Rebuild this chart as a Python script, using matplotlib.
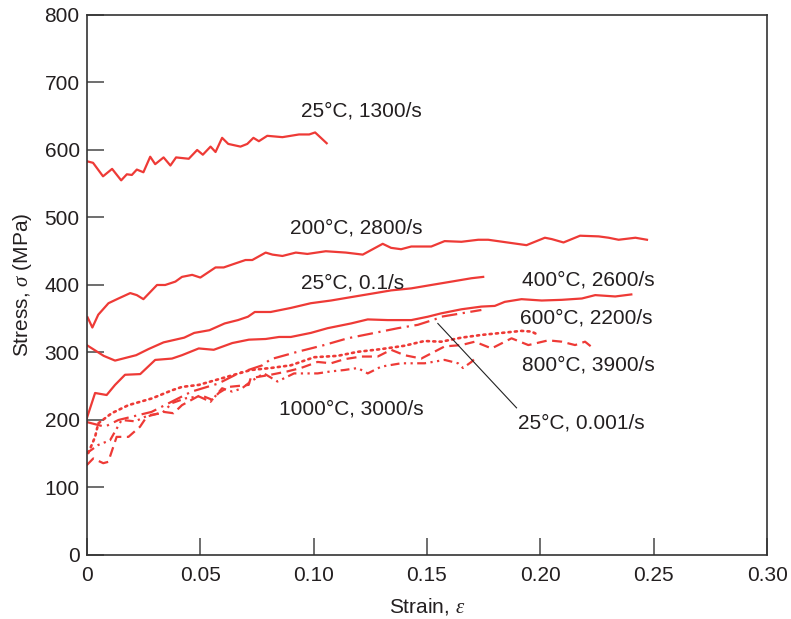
import numpy as np
import matplotlib.pyplot as plt

plt.rcParams['font.family'] = 'Liberation Sans'
plt.rcParams['mathtext.fontset'] = 'custom'
plt.rcParams['mathtext.it'] = 'Liberation Serif:italic'
plt.rcParams['mathtext.rm'] = 'Liberation Sans'

red = '#ee3a36'
txt = '#231f20'

# 25C, 1300/s
s1_x = [0.0004, 0.0028, 0.0072, 0.0112, 0.0152, 0.0177, 0.0199, 0.0221, 0.0250, 0.0280, 0.0302, 0.0339, 0.0369,
        0.0394, 0.0450, 0.0487, 0.0512, 0.0546, 0.0568, 0.0597, 0.0624, 0.0678, 0.0708, 0.0735, 0.0759, 0.0796,
        0.0863, 0.0936, 0.0981, 0.1007, 0.1058]
s1_y = [583, 581, 561, 572, 555, 564, 563, 571, 567, 590, 579, 589, 577, 589, 587, 600, 593, 605, 597, 618, 609,
        605, 609, 618, 613, 621, 619, 623, 623, 626, 610]

# 200C, 2800/s
s2_x = [0.0004, 0.0025, 0.0051, 0.0096, 0.0140, 0.0192, 0.0221, 0.0250, 0.0310, 0.0346, 0.0391, 0.0420, 0.0465,
        0.0501, 0.0568, 0.0604, 0.0656, 0.0700, 0.0730, 0.0789, 0.0819, 0.0863, 0.0922, 0.0973, 0.1054, 0.1143,
        0.1217, 0.1305, 0.1342, 0.1386, 0.1431, 0.1519, 0.1578, 0.1652, 0.1726, 0.1770, 0.1939, 0.2020, 0.2050,
        0.2102, 0.2175, 0.2257, 0.2301, 0.2345, 0.2419, 0.2470]
s2_y = [352, 337, 356, 373, 380, 388, 385, 379, 400, 400, 405, 412, 415, 411, 426, 426, 432, 437, 437, 448, 445,
        443, 448, 446, 450, 448, 445, 461, 455, 453, 457, 457, 465, 464, 467, 467, 459, 470, 468, 463, 473, 472,
        470, 467, 470, 467]

# 25C, 0.1/s
s3_x = [0.0, 0.0075, 0.0125, 0.0218, 0.0272, 0.0339, 0.0430, 0.0474, 0.0541, 0.0608, 0.0667, 0.0711, 0.0741,
        0.0811, 0.0900, 0.0988, 0.1077, 0.1165, 0.1254, 0.1342, 0.1431, 0.1519, 0.1608, 0.1696, 0.1748]
s3_y = [311, 295, 288, 296, 305, 315, 322, 329, 333, 343, 348, 353, 360, 360, 366, 373, 377, 382, 387, 392, 395,
        400, 405, 410, 412]

# 400C, 2600/s
s4_x = [0.0, 0.0037, 0.0088, 0.0125, 0.0169, 0.0236, 0.0302, 0.0376, 0.0420, 0.0494, 0.0560, 0.0642, 0.0715,
        0.0789, 0.0848, 0.0900, 0.0988, 0.1062, 0.1165, 0.1239, 0.1327, 0.1431, 0.1504, 0.1563, 0.1652, 0.1740,
        0.1799, 0.1843, 0.1917, 0.2006, 0.2094, 0.2183, 0.2242, 0.2330, 0.2401]
s4_y = [202, 240, 237, 252, 267, 268, 289, 291, 296, 306, 304, 314, 319, 320, 323, 323, 329, 336, 343, 349, 348,
        348, 353, 358, 364, 368, 369, 375, 379, 377, 378, 380, 385, 383, 386]

# 25C, 0.001/s
s5_x = [0.0, 0.0080, 0.0140, 0.0286, 0.0374, 0.0462, 0.0580, 0.0668, 0.0774, 0.0811, 0.0929, 0.1047, 0.1150,
        0.1254, 0.1372, 0.1460, 0.1534, 0.1563, 0.1652, 0.1740]
s5_y = [197, 190, 200, 212, 227, 242, 254, 269, 281, 290, 301, 311, 321, 328, 336, 341, 349, 353, 358, 363]

# 600C, 2200/s
s6_x = [0.0007, 0.0037, 0.0051, 0.0110, 0.0184, 0.0288, 0.0376, 0.0420, 0.0494, 0.0723, 0.0811, 0.0900, 0.1003,
        0.1106, 0.1195, 0.1298, 0.1401, 0.1489, 0.1563, 0.1652, 0.1740, 0.1829, 0.1917, 0.1961, 0.1991]
s6_y = [151, 175, 195, 210, 222, 232, 244, 249, 252, 274, 277, 281, 293, 295, 301, 305, 310, 317, 316, 322, 326,
        329, 332, 331, 326]

# 800C, 3900/s
s7_x = [0.0, 0.0029, 0.0073, 0.0095, 0.0132, 0.0184, 0.0235, 0.0265, 0.0339, 0.0383, 0.0420, 0.0501, 0.0553,
        0.0582, 0.0626, 0.0714, 0.0723, 0.0811, 0.0885, 0.0944, 0.1018, 0.1077, 0.1135, 0.1210, 0.1283, 0.1342,
        0.1401, 0.1475, 0.1578, 0.1652, 0.1711, 0.1785, 0.1873, 0.1947, 0.2035, 0.2094, 0.2153, 0.2197, 0.2234]
s7_y = [133, 143, 136, 138, 175, 175, 190, 205, 212, 210, 222, 237, 230, 240, 249, 252, 262, 267, 272, 277, 286,
        284, 290, 294, 294, 304, 296, 291, 309, 311, 316, 306, 321, 311, 318, 316, 311, 316, 306]

# 1000C, 3000/s
s8_x = [0.0, 0.0022, 0.0051, 0.0103, 0.0154, 0.0214, 0.0272, 0.0332, 0.0376, 0.0435, 0.0494, 0.0546, 0.0597,
        0.0642, 0.0685, 0.0723, 0.0781, 0.0841, 0.0914, 0.1018, 0.1077, 0.1135, 0.1195, 0.1239, 0.1298, 0.1386,
        0.1490, 0.1578, 0.1637, 0.1659, 0.1696, 0.1711]
s8_y = [151, 156, 163, 170, 200, 198, 207, 210, 225, 232, 235, 227, 247, 242, 247, 257, 269, 257, 269, 269, 272,
        274, 277, 269, 279, 284, 284, 289, 284, 277, 286, 291]

fig = plt.figure(figsize=(7.91, 6.19), dpi=100)
ax = fig.add_axes([0.1096, 0.1034, 0.8603, 0.8724])

lw = 1.6
ax.plot(s1_x, s1_y, color=red, lw=lw)
ax.plot(s2_x, s2_y, color=red, lw=lw)
ax.plot(s3_x, s3_y, color=red, lw=lw)
ax.plot(s4_x, s4_y, color=red, lw=lw)
ax.plot(s5_x, s5_y, color=red, lw=lw, linestyle=(0, (7, 2.5, 1, 2.5)))
ax.plot(s6_x, s6_y, color=red, lw=lw + 0.3, linestyle=(0, (0.8, 1.6)), dash_capstyle='round')
ax.plot(s7_x, s7_y, color=red, lw=lw, linestyle=(0, (4.5, 2.5)))
ax.plot(s8_x, s8_y, color=red, lw=lw, linestyle=(0, (4, 2, 1, 2, 1, 2)))

fs = 15
ax.text(0.0944, 658, '25°C, 1300/s', fontsize=fs, color=txt, va='center')
ax.text(0.0895, 484, '200°C, 2800/s', fontsize=fs, color=txt, va='center')
ax.text(0.0944, 403, '25°C, 0.1/s', fontsize=fs, color=txt, va='center')
ax.text(0.1917, 407, '400°C, 2600/s', fontsize=fs, color=txt, va='center')
ax.text(0.1910, 351, '600°C, 2200/s', fontsize=fs, color=txt, va='center')
ax.text(0.1920, 281, '800°C, 3900/s', fontsize=fs, color=txt, va='center')
ax.text(0.0846, 216, '1000°C, 3000/s', fontsize=fs, color=txt, va='center')
ax.text(0.1900, 196, '25°C, 0.001/s', fontsize=fs, color=txt, va='center')
ax.plot([0.1548, 0.1895], [343, 218], color='#222222', lw=0.8)

ax.set_xlim(0, 0.30)
ax.set_ylim(0, 800)
ax.set_xticks([0, 0.05, 0.10, 0.15, 0.20, 0.25, 0.30])
ax.set_xticklabels(['0', '0.05', '0.10', '0.15', '0.20', '0.25', '0.30'])
ax.set_yticks(np.arange(0, 801, 100))
ax.tick_params(direction='in', length=12, width=1.2, colors='#555555', labelcolor=txt, labelsize=fs)
ax.tick_params(axis='x', pad=8)
ax.tick_params(axis='y', pad=5)
for sp in ax.spines.values():
    sp.set_color('#333333')
    sp.set_linewidth(1.2)
ax.set_xlabel(r'Strain, $\varepsilon$', fontsize=fs, color=txt, labelpad=8)
ax.set_ylabel(r'Stress, $\sigma$ (MPa)', fontsize=fs, color=txt, labelpad=8)

fig.savefig('out.png', dpi=100)
